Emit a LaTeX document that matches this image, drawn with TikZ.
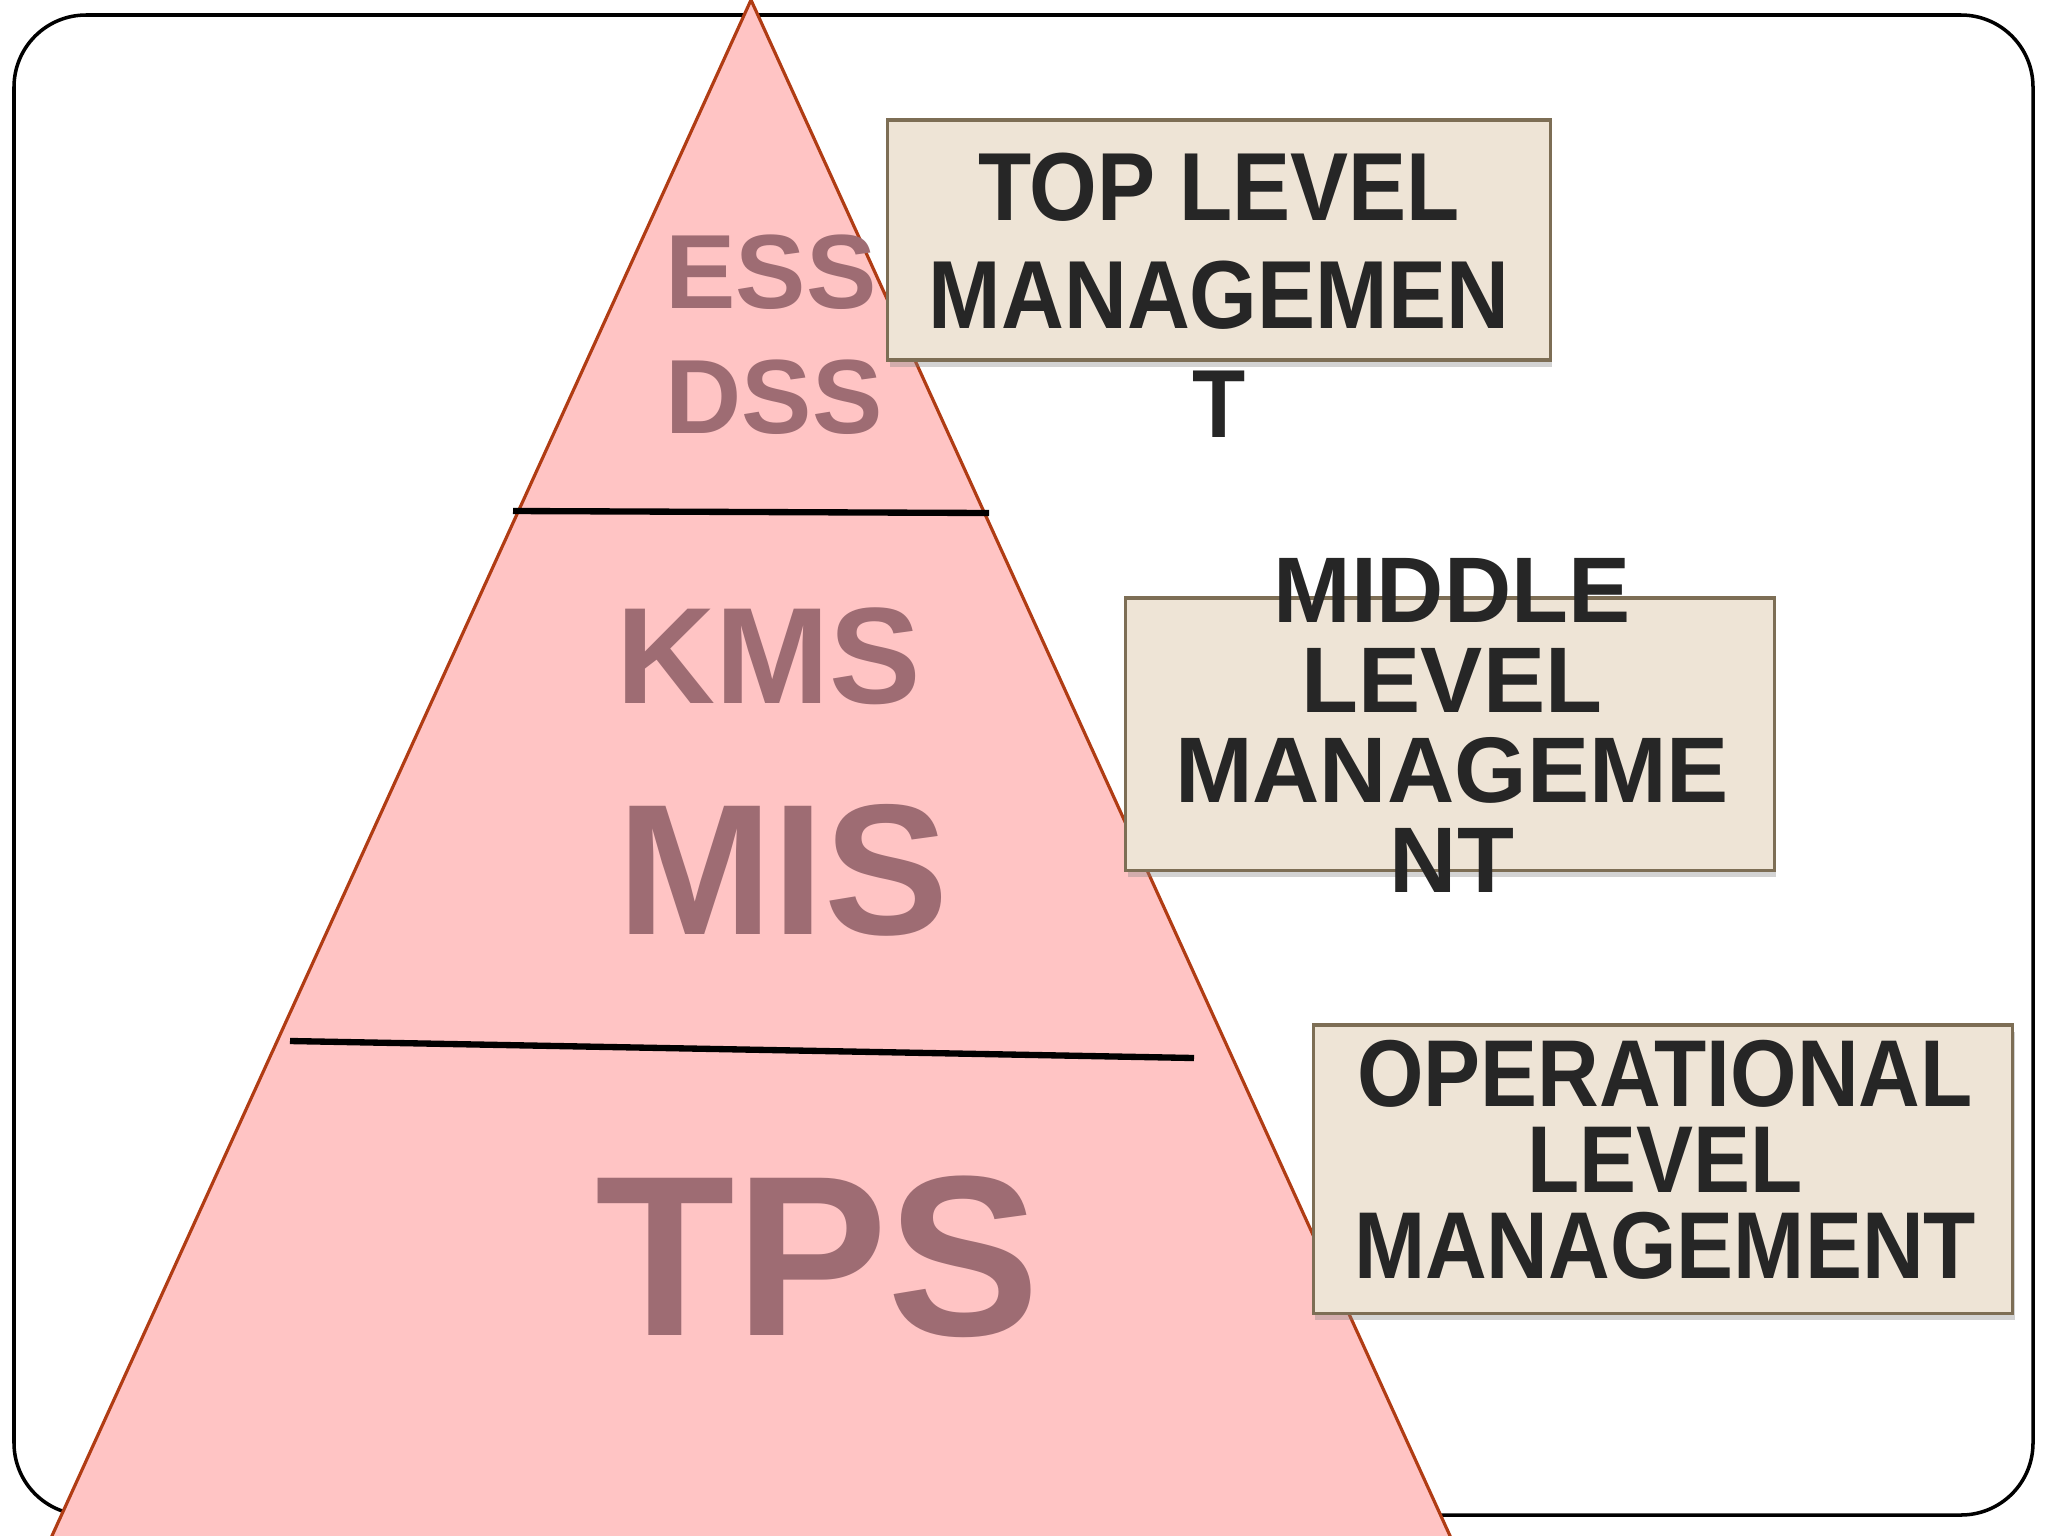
\documentclass[tikz,border=0pt]{standalone}
\usepackage{fontspec}
\usepackage{tikz}
\usetikzlibrary{shadows}
\setmainfont{Liberation Sans}
\newfontfamily\lvlfont{Liberation Sans}[FakeStretch=0.9]
\definecolor{pyrfill}{HTML}{FFC4C4}
\definecolor{pyredge}{HTML}{B03C14}
\definecolor{lvlfill}{HTML}{EEE4D6}
\definecolor{lvledge}{HTML}{7D6E55}
\definecolor{sysname}{HTML}{9E6C73}

\begin{document}
\begin{tikzpicture}[x=0.01cm,y=-0.01cm,
    lvl/.style={draw=lvledge,fill=lvlfill,line width=0.9pt,inner sep=0pt,outer sep=0pt,
      drop shadow={shadow xshift=0.02cm,shadow yshift=-0.07cm,opacity=0.35}},
    lvltext/.style={align=center,text=black!85,inner sep=0pt},
    sys/.style={text=sysname,inner sep=0pt}]
      \useasboundingbox (0,0) rectangle (2048,1536);
      \draw[line width=1pt,rounded corners=0.72cm] (14,15) rectangle (2033,1515);

      \path
      (751,0) coordinate(apex)
      (41,1560) coordinate(baseL)
      (1461,1560) coordinate(baseR)
      (513,511) coordinate(d1l)
      (989,513) coordinate(d1r)
      (290,1041) coordinate(d2l)
      (1194,1058) coordinate(d2r)
      ;

      \filldraw[fill=pyrfill,draw=pyredge,line width=0.9pt] (apex) -- (baseR) -- (baseL) -- cycle;
      \draw[line width=1.8pt] (d1l) -- (d1r);
      \draw[line width=1.8pt] (d2l) -- (d2r);

      \path
      (771,272) node[sys,font=\fontsize{30}{36}\selectfont\bfseries](ess) {ESS}
      (774,397) node[sys,font=\fontsize{30}{36}\selectfont\bfseries](dss) {DSS}
      (769,656) node[sys,font=\fontsize{39}{46}\selectfont\bfseries](kms) {KMS}
      (783,870) node[sys,font=\fontsize{53}{64}\selectfont\bfseries](mis) {MIS}
      (818,1257) node[sys,font=\fontsize{65}{78}\selectfont\bfseries](tps) {TPS}
      ;

      \path
      (1219,240) node[lvl,minimum width=6.62cm,minimum height=2.40cm](top) {}
      (1450,734) node[lvl,minimum width=6.48cm,minimum height=2.72cm](middle) {}
      (1663,1169) node[lvl,minimum width=6.99cm,minimum height=2.88cm](oper) {}
      ;

      \path
      (1219,295) node[lvltext,font=\lvlfont\fontsize{27.5}{30.8}\selectfont\bfseries](toptxt) {TOP LEVEL\\MANAGEMEN\\T}
      (1452,725) node[lvltext,font=\fontsize{26.5}{25.6}\selectfont\bfseries](midtxt) {MIDDLE\\LEVEL\\MANAGEME\\NT}
      (1665,1160) node[lvltext,font=\lvlfont\fontsize{27}{24.5}\selectfont\bfseries](opertxt) {OPERATIONAL\\LEVEL\\MANAGEMENT}
      ;
    \end{tikzpicture}
\end{document}
